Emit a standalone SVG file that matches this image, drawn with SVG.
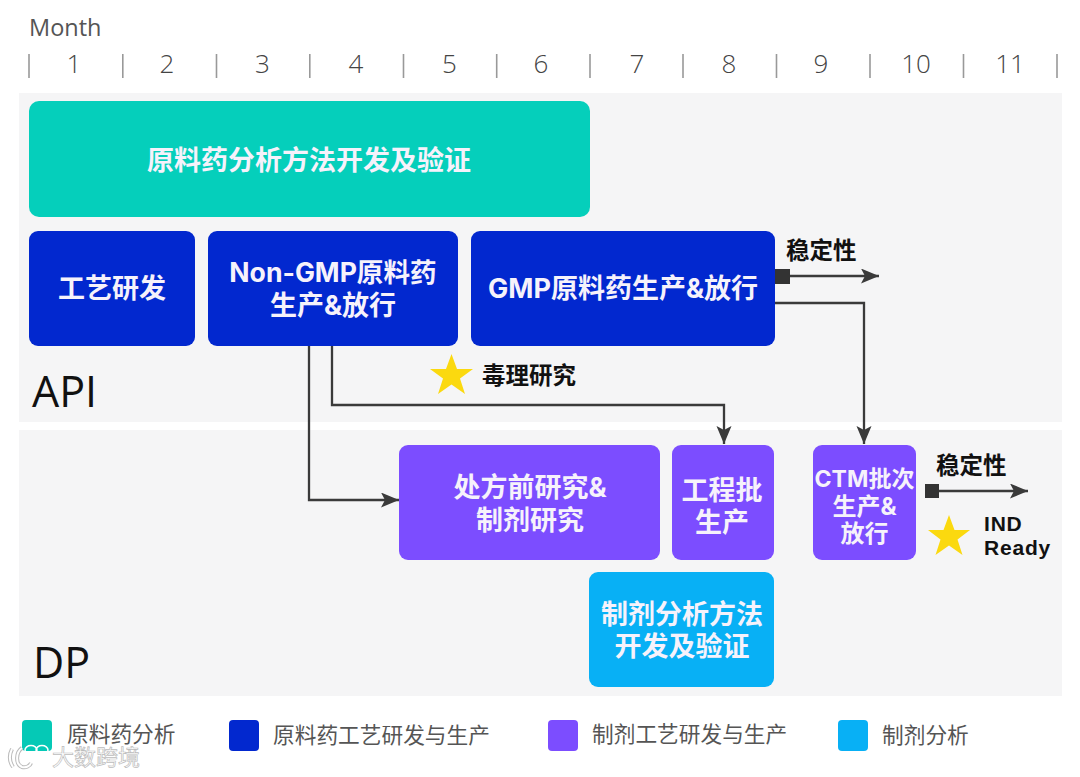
<svg xmlns="http://www.w3.org/2000/svg" width="1080" height="777" viewBox="0 0 1080 777">
<style>
text{font-family:"Inter","Noto Sans CJK SC",sans-serif}
.m{font-family:"Open Sans","Noto Sans CJK SC",sans-serif;font-size:26px;font-weight:300;fill:#444;text-anchor:middle}
.t{stroke:#999;stroke-width:1.6}
.p{fill:#f5f5f6}
.n{font-size:27px;font-weight:700;fill:#f6f2fb;text-anchor:middle}
.b{font-weight:700;fill:#111}
.l{font-size:21.700px;fill:#555}
.c{fill:none;stroke:#3a3a3a;stroke-width:2.300}
.c2{fill:none;stroke:#3a3a3a;stroke-width:2.600}
.s{fill:#333}
.star{fill:#fbd90f}
.sec{font-size:43px;fill:#111;font-family:"Open Sans",sans-serif;font-weight:400}
.ind{font-family:"Liberation Sans",sans-serif;font-size:21px;font-weight:700;letter-spacing:.8px;fill:#111}
</style>
<defs>
<marker id="a" markerUnits="userSpaceOnUse" markerWidth="20" markerHeight="16" refX="18" refY="7.500" orient="auto"><path d="M0 0L18 7.500L0 15L4 7.500Z" fill="#3a3a3a"/></marker>
</defs>
<rect width="1080" height="777" fill="#fff"/>
<g id="axis">
<text x="29" y="36" font-size="23.500" fill="#555" style="font-family:'Open Sans',sans-serif">Month</text>
<g class="t"><path d="M29 54V78M122.800 54V78M216.500 54V78M309.800 54V78M403.500 54V78M496.700 54V78M590 54V78M683 54V78M776.500 54V78M870 54V78M963.500 54V78M1057 54V78"/></g>
<text class="m" x="74" y="73">1</text><text class="m" x="167" y="73">2</text><text class="m" x="262.500" y="73">3</text><text class="m" x="356" y="73">4</text><text class="m" x="449.500" y="73">5</text><text class="m" x="541" y="73">6</text><text class="m" x="637" y="73">7</text><text class="m" x="729" y="73">8</text><text class="m" x="821" y="73">9</text><text class="m" x="916" y="73">10</text><text class="m" x="1010" y="73">11</text>
</g>
<g id="panels">
<rect class="p" x="19" y="93" width="1043" height="329"/>
<rect class="p" x="19" y="430" width="1043" height="266"/>
<text class="sec" x="32" y="407">API</text>
<text class="sec" x="33" y="678">DP</text>
</g>
<g id="connectors">
<path class="c" d="M775 303H864V444" marker-end="url(#a)"/>
<path class="c" d="M332 346V405H724V444" marker-end="url(#a)"/>
<path class="c" d="M309 346V500H399" marker-end="url(#a)"/>
<path class="c2" d="M776 276H879" marker-end="url(#a)"/>
<rect class="s" x="775" y="269" width="15" height="15"/>
<path class="c" d="M925 491H1028" marker-end="url(#a)"/>
<rect class="s" x="925" y="484" width="14" height="14"/>
</g>
<g id="n1"><rect x="29" y="101" width="561" height="116" rx="10" fill="#05cfbb"/><text class="n" x="309" y="170">原料药分析方法开发及验证</text></g>
<g id="n2"><rect x="29" y="231" width="166" height="115" rx="9" fill="#0228cf"/><text class="n" x="112" y="298">工艺研发</text></g>
<g id="n3"><rect x="208" y="231" width="250" height="115" rx="9" fill="#0228cf"/><text class="n" x="333" y="282" style="font-size:26.600px">Non-GMP原料药</text><text class="n" x="333" y="315">生产&amp;放行</text></g>
<g id="n4"><rect x="471" y="231" width="304" height="115" rx="9" fill="#0228cf"/><text class="n" x="623" y="298">GMP原料药生产&amp;放行</text></g>
<g id="n5"><rect x="399" y="445" width="261" height="115" rx="9" fill="#7c4dff"/><text class="n" x="530" y="497">处方前研究&amp;</text><text class="n" x="530" y="530">制剂研究</text></g>
<g id="n6"><rect x="672" y="445" width="102" height="115" rx="9" fill="#7c4dff"/><text class="n" x="722" y="500">工程批</text><text class="n" x="722" y="532">生产</text></g>
<g id="n7"><rect x="813" y="445" width="103" height="115" rx="9" fill="#7c4dff"/><text class="n" x="864.500" y="487" style="font-size:23px">CTM批次</text><text class="n" x="864.500" y="515" style="font-size:24px">生产&amp;</text><text class="n" x="864.500" y="542" style="font-size:24px">放行</text></g>
<g id="n8"><rect x="589" y="572" width="185" height="115" rx="9" fill="#08b0f5"/><text class="n" x="682" y="624">制剂分析方法</text><text class="n" x="682" y="656">开发及验证</text></g>
<g id="labels">
<text class="b" x="786" y="259" font-size="23.500">稳定性</text>
<text class="b" x="936" y="474" font-size="23.500">稳定性</text>
<path class="star" d="M451.500 354L457 369H473L460 378.500L465 394L451.500 384.500L438 394L443 378.500L430 369H446Z"/>
<text class="b" x="482" y="384" font-size="23.500">毒理研究</text>
<path class="star" d="M949 515L954.500 530H970L957.500 539.500L962.500 555L949 545.500L935.500 555L940.500 539.500L928 530H943.500Z"/>
<text class="ind" x="984" y="531">IND</text>
<text class="ind" x="984" y="555.400">Ready</text>
</g>
<g id="legend">
<rect x="22" y="720" width="30" height="31" rx="4" fill="#05c9b6"/><text class="l" x="67" y="742">原料药分析</text>
<rect x="229" y="720" width="30" height="31" rx="4" fill="#0228cf"/><text class="l" x="273" y="743">原料药工艺研发与生产</text>
<rect x="548" y="720" width="30" height="31" rx="4" fill="#7c4dff"/><text class="l" x="592" y="742">制剂工艺研发与生产</text>
<rect x="838" y="720" width="30" height="31" rx="4" fill="#08b0f5"/><text class="l" x="882" y="743">制剂分析</text>
</g>
<g id="watermark">
<text x="52" y="765" font-size="22" fill="#fff" stroke="#b5b5b5" stroke-width="0.700" opacity="0.9">大数跨境</text>
<g fill="none">
<path d="M12 749C9 755 9 761 13 767M22 748C16 752 15 764 22 767C26 768 30 766 31 763" stroke="#bbb" stroke-width="4"/>
<path d="M12 749C9 755 9 761 13 767M22 748C16 752 15 764 22 767C26 768 30 766 31 763" stroke="#fff" stroke-width="2"/>
<ellipse cx="31" cy="750" rx="6" ry="4.500" stroke="#fff" stroke-width="1.500"/>
<ellipse cx="42" cy="750" rx="6" ry="4.500" stroke="#fff" stroke-width="1.500"/>
</g>
</g>
</svg>
